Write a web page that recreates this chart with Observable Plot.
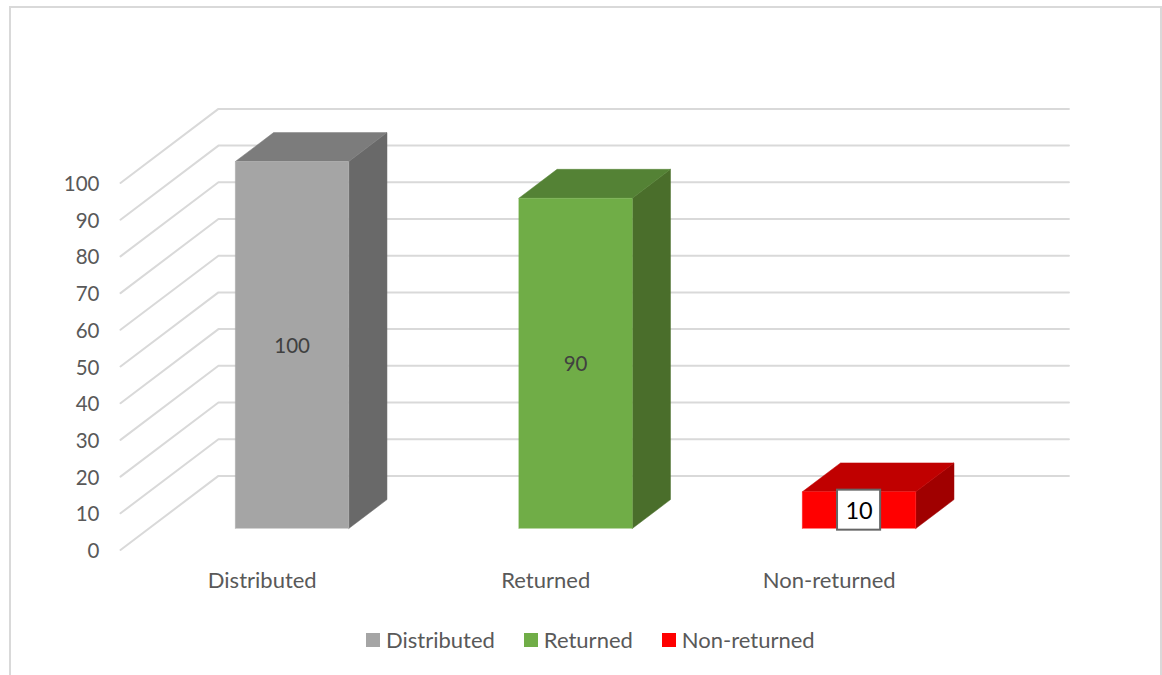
<!DOCTYPE html>
<html>
<head>
<meta charset="utf-8">
<script src="https://cdn.jsdelivr.net/npm/d3@7"></script>
<script src="https://cdn.jsdelivr.net/npm/@observablehq/plot@0.6"></script>
<style>
  html, body { margin: 0; padding: 0; background: #fff; }
  #card { position: relative; width: 1162px; height: 675px; overflow: hidden; font-family: Lato, sans-serif; }
  #frame { position: absolute; left: 9px; top: 6px; width: 1153px; height: 680px; border: 2px solid #d9d9d9; box-sizing: border-box; }
  #chart { position: absolute; left: 0; top: 0; }
  #chart svg { background: transparent; display: block; }
  #legend { position: absolute; left: 366px; top: 628px; display: flex; align-items: center; height: 24px; color: #595959; font-size: 22px; line-height: 24px; }
  .item { display: flex; align-items: center; margin-right: 29px; }
  .swatch { width: 14px; height: 14px; margin-right: 6px; }
</style>
</head>
<body>
<div id="card">
  <div id="frame"></div>
  <div id="chart"></div>
  <div id="legend"></div>
</div>
<script>
const categories = ["Distributed", "Returned", "Non-returned"];
const values = [100, 90, 10];
const frontColors = ["#a5a5a5", "#70ad47", "#ff0000"];
const topColors = ["#7c7c7c", "#548235", "#c00000"];
const sideColors = ["#696969", "#4a6e2b", "#a00000"];
const valueLabelColors = ["#404040", "#404040", "#000000"];
const valueLabelSizes = [20.5, 20.5, 23.5];
const yTicks = [0, 10, 20, 30, 40, 50, 60, 70, 80, 90, 100];

// Oblique projection of the chart's floor depth (0 = front edge, 1 = back wall)
const skewX = 0.3455, skewY = 20.19;
const depthFront = 0.29, depthBack = 0.68;
const barWidth = 0.4, barNudge = 0.005;
const px = (slot, d) => slot + d * skewX;
const py = (v, d) => v + d * skewY;

const grid = yTicks.flatMap(t => [
  {t, x: px(0, 0), y: py(t, 0)},
  {t, x: px(0, 1), y: py(t, 1)},
  {t, x: px(categories.length, 1), y: py(t, 1)}
]);

const bars = categories.map((name, i) => ({
  name, i, v: values[i],
  left: i + 0.5 + barNudge - barWidth / 2,
  right: i + 0.5 + barNudge + barWidth / 2
}));

const face = (b, kind, color, pts) =>
  pts.map(([s, v, d]) => ({key: b.name + kind, color, x: px(s, d), y: py(v, d)}));

const faces = bars.flatMap(b => [
  ...face(b, "side", sideColors[b.i], [
    [b.right, 0, depthFront], [b.right, 0, depthBack],
    [b.right, b.v, depthBack], [b.right, b.v, depthFront]
  ]),
  ...face(b, "top", topColors[b.i], [
    [b.left, b.v, depthFront], [b.left, b.v, depthBack],
    [b.right, b.v, depthBack], [b.right, b.v, depthFront]
  ]),
  ...face(b, "front", frontColors[b.i], [
    [b.left, 0, depthFront], [b.left, b.v, depthFront],
    [b.right, b.v, depthFront], [b.right, 0, depthFront]
  ])
]);

const labelAt = b => ({
  x: px((b.left + b.right) / 2, depthFront),
  y: py(b.v / 2, depthFront)
});
const boxed = bars.filter(b => b.v === 10);
const boxW = 0.076, boxH = 5.45;

const chart = Plot.plot({
  width: 1162,
  height: 610,
  marginLeft: 120,
  marginRight: 191.5,
  marginTop: 182.5,
  marginBottom: 60.5,
  style: {background: "transparent", fontFamily: "Lato, sans-serif", overflow: "visible"},
  x: {domain: [0, categories.length], axis: null},
  y: {domain: [0, 100], axis: null},
  color: {type: "identity"},
  marks: [
    Plot.line(grid, {x: "x", y: "y", z: "t", stroke: "#d9d9d9", strokeWidth: 2}),
    Plot.line(faces, {x: "x", y: "y", z: "key", fill: "color", stroke: "color", strokeWidth: 0.5}),
    Plot.rect(boxed, {
      x1: b => labelAt(b).x - boxW, x2: b => labelAt(b).x + boxW,
      y1: b => labelAt(b).y - boxH, y2: b => labelAt(b).y + boxH,
      fill: "#ffffff", stroke: "#666666", strokeWidth: 2
    }),
    Plot.text(bars, {
      x: b => labelAt(b).x, y: b => labelAt(b).y, text: b => String(b.v), dy: 1,
      fill: b => valueLabelColors[b.i], fontSize: b => valueLabelSizes[b.i]
    }),
    Plot.text(yTicks, {
      x: 0, y: d => d, text: d => String(d), textAnchor: "end", dx: -21, dy: 1.5,
      fill: "#595959", fontSize: 20.5
    }),
    Plot.text(bars, {
      x: b => b.i + 0.5, y: 0, text: "name", dy: 31,
      fill: "#595959", fontSize: 22
    })
  ]
});
document.getElementById("chart").appendChild(chart);

const legend = document.getElementById("legend");
categories.forEach((name, i) => {
  const item = document.createElement("div");
  item.className = "item";
  const sw = document.createElement("span");
  sw.className = "swatch";
  sw.style.background = frontColors[i];
  const label = document.createElement("span");
  label.textContent = name;
  item.append(sw, label);
  legend.appendChild(item);
});
</script>
</body>
</html>
